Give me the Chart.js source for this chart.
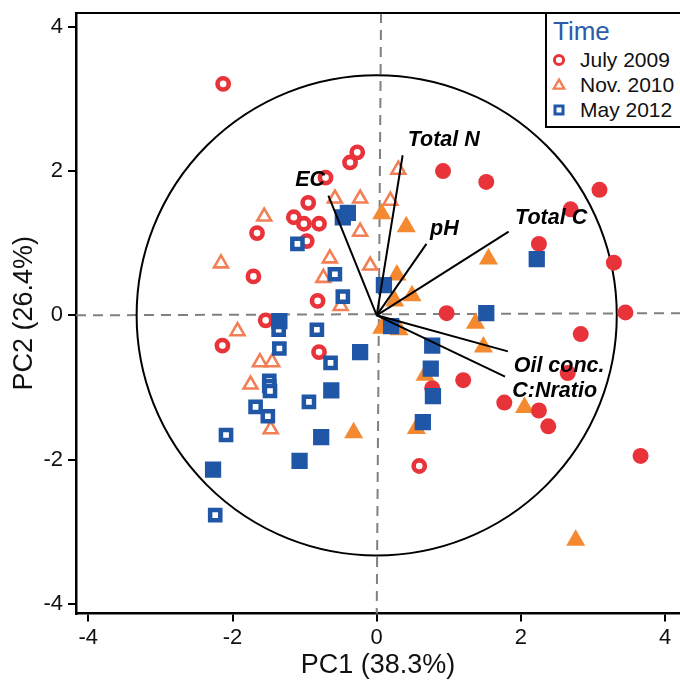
<!DOCTYPE html>
<html>
<head>
<meta charset="utf-8">
<script src="https://cdn.jsdelivr.net/npm/chart.js"></script>
<style>
html,body{margin:0;padding:0;width:680px;height:681px;overflow:hidden;background:#fff;}
#wrap{position:relative;width:680px;height:681px;overflow:hidden;}
#c{position:absolute;left:0;top:0;}
#legend{position:absolute;left:545px;top:12px;width:150px;height:116px;border:2px solid #000;box-sizing:border-box;background:#fff;font-family:'Liberation Sans',Arial,Helvetica,sans-serif;}
#legend .ttl{position:absolute;left:6px;top:3px;font-size:26px;line-height:28px;color:#2a5caa;white-space:nowrap;}
#legend .item{position:absolute;left:0;height:24px;white-space:nowrap;}
#legend .item svg{position:absolute;left:3px;top:3px;}
#legend .item span{position:absolute;left:33px;top:0;font-size:21px;line-height:24px;color:#111;}
</style>
</head>
<body>
<div id="wrap">
<canvas id="c" width="680" height="681"></canvas>
<div id="legend"></div>
</div>
<script>
// ---------------- data ----------------
const SERIES = ['July 2009', 'Nov. 2010', 'May 2012'];

const JULY2009_OPEN_X = [-2.13,-0.27,-0.37,-0.71,-0.95,-1.15,-1.01,-0.80,-1.66,-0.97,-1.71,-0.82,-1.54,-2.14,-0.80,0.59];
const JULY2009_OPEN_Y = [3.21,2.26,2.12,1.91,1.56,1.36,1.27,1.27,1.14,1.03,0.54,0.20,-0.07,-0.42,-0.51,-2.09];

const JULY2009_FILLED_X = [0.92,1.52,3.09,2.69,2.25,3.29,0.97,3.45,2.83,2.65,0.77,1.20,1.77,2.25,2.38,3.66];
const JULY2009_FILLED_Y = [2.00,1.85,1.74,1.47,0.99,0.73,0.03,0.04,-0.26,-0.80,-1.01,-0.90,-1.21,-1.32,-1.54,-1.95];

const NOV2010_OPEN_X = [0.30,-0.58,-0.23,0.19,-1.56,-0.23,-2.16,-0.65,-0.09,-0.74,-0.50,-1.93,-1.62,-1.45,-1.75,-1.47];
const NOV2010_OPEN_Y = [2.02,1.62,1.62,1.59,1.37,1.16,0.72,0.79,0.69,0.52,0.13,-0.22,-0.65,-0.65,-0.96,-1.58];

const NOV2010_FILLED_X = [0.07,0.41,1.55,0.28,0.49,0.25,0.07,0.31,1.37,1.48,0.67,2.05,0.55,-0.32,2.76];
const NOV2010_FILLED_Y = [1.41,1.23,0.78,0.56,0.27,0.20,-0.18,-0.20,-0.11,-0.44,-0.83,-1.28,-1.57,-1.63,-3.12];

const MAY2012_OPEN_X = [-1.10,-0.58,-0.47,-1.36,-0.83,-1.35,-0.64,-1.49,-1.49,-1.48,-0.94,-1.68,-1.51,-2.09,-2.24];
const MAY2012_OPEN_Y = [0.99,0.57,0.26,-0.20,-0.20,-0.46,-0.66,-0.91,-0.98,-1.05,-1.20,-1.27,-1.40,-1.66,-2.77];

const MAY2012_FILLED_X = [-0.47,-0.40,0.10,2.22,1.52,-1.35,0.20,-0.23,0.77,0.75,0.78,-0.63,0.64,-0.77,-1.07,-2.27];
const MAY2012_FILLED_Y = [1.36,1.42,0.42,0.78,0.03,-0.08,-0.15,-0.51,-0.42,-0.74,-1.12,-1.04,-1.48,-1.69,-2.02,-2.14];

// loading vectors (arrow ends) and their label anchors
const VECTOR_NAMES = ['Total N','EC','pH','Total C','Oil conc.','C:Nratio'];
const VECTOR_X = [0.36,-0.67,0.69,1.83,1.82,1.78];
const VECTOR_Y = [2.22,1.66,0.99,1.16,-0.50,-0.85];
const LABEL_X = [0.43,-1.13,0.74,1.92,1.90,1.88];
const LABEL_Y = [2.43,1.88,1.20,1.35,-0.70,-1.05];

const CIRCLE_R = 3.33;
const X_TICKS = [-4,-2,0,2,4];
const Y_TICKS = [-4,-2,0,2,4];
const X_MIN = -4.171, X_MAX = 4.207;
const Y_MIN = -4.137, Y_MAX = 4.193;
// reference guide lines (slightly tilted as in the original)
const GUIDE_H = [0, 0.03];   // y at left, y at right
const GUIDE_V = [0.06, 0];   // x at top, x at bottom

// ---------------- styles ----------------
const FONT = "'Liberation Sans', Arial, Helvetica, sans-serif";
const RED = '#e8333a';
const CORAL = '#f27f55';
const ORANGE = '#f4892f';
const BLUE = '#1f56a6';

const pts = (xs, ys) => xs.map((v, i) => ({x: v, y: ys[i]}));

const datasets = [];
VECTOR_NAMES.forEach((n, i) => {
  datasets.push({
    label: n,
    data: [{x: 0, y: 0}, {x: VECTOR_X[i], y: VECTOR_Y[i]}],
    showLine: true, pointRadius: 0, borderColor: '#000', borderWidth: 2,
    backgroundColor: '#000', order: 0
  });
});
datasets.push({label: SERIES[2], data: pts(MAY2012_FILLED_X, MAY2012_FILLED_Y), pointStyle: 'rect', pointRadius: 11.5, borderWidth: 0, backgroundColor: BLUE, borderColor: BLUE, order: 1});
datasets.push({label: SERIES[2], data: pts(MAY2012_OPEN_X, MAY2012_OPEN_Y), pointStyle: 'rect', pointRadius: 7.2, borderWidth: 4.5, backgroundColor: '#fff', borderColor: BLUE, order: 2});
datasets.push({label: SERIES[0], data: pts(JULY2009_FILLED_X, JULY2009_FILLED_Y), pointStyle: 'circle', pointRadius: 8, borderWidth: 0, backgroundColor: RED, borderColor: RED, order: 3});
datasets.push({label: SERIES[0], data: pts(JULY2009_OPEN_X, JULY2009_OPEN_Y), pointStyle: 'circle', pointRadius: 5.6, borderWidth: 4.6, backgroundColor: '#fff', borderColor: RED, order: 4});
datasets.push({label: SERIES[1], data: pts(NOV2010_FILLED_X, NOV2010_FILLED_Y), pointStyle: 'triangle', pointRadius: 11, borderWidth: 0, backgroundColor: ORANGE, borderColor: ORANGE, order: 5});
datasets.push({label: SERIES[1], data: pts(NOV2010_OPEN_X, NOV2010_OPEN_Y), pointStyle: 'triangle', pointRadius: 8, borderWidth: 2.6, backgroundColor: '#fff', borderColor: CORAL, order: 6});

const overlay = {
  id: 'overlay',
  beforeDatasetsDraw(chart) {
    const {ctx, chartArea: a, scales: {x, y}} = chart;
    ctx.save();
    ctx.strokeStyle = '#808080';
    ctx.lineWidth = 2;
    ctx.setLineDash([10, 7]);
    ctx.beginPath();
    ctx.moveTo(a.left, y.getPixelForValue(GUIDE_H[0]));
    ctx.lineTo(a.right, y.getPixelForValue(GUIDE_H[1]));
    ctx.stroke();
    ctx.beginPath();
    ctx.moveTo(x.getPixelForValue(GUIDE_V[0]), a.top);
    ctx.lineTo(x.getPixelForValue(GUIDE_V[1]), a.bottom);
    ctx.stroke();
    ctx.setLineDash([]);
    const cx = x.getPixelForValue(0), cy = y.getPixelForValue(0);
    const rx = x.getPixelForValue(CIRCLE_R) - cx;
    const ry = cy - y.getPixelForValue(CIRCLE_R);
    ctx.beginPath();
    ctx.ellipse(cx, cy, rx, ry, 0, 0, Math.PI * 2);
    ctx.strokeStyle = '#000';
    ctx.lineWidth = 2;
    ctx.stroke();
    ctx.restore();
  },
  afterDatasetsDraw(chart) {
    const {ctx, scales: {x, y}} = chart;
    ctx.save();
    ctx.fillStyle = '#000';
    ctx.font = "italic bold 21.5px " + FONT;
    ctx.textAlign = 'left';
    ctx.textBaseline = 'middle';
    VECTOR_NAMES.forEach((n, i) => {
      ctx.fillText(n, x.getPixelForValue(LABEL_X[i]), y.getPixelForValue(LABEL_Y[i]));
    });
    ctx.restore();
  },
  afterDraw(chart) {
    const {ctx, chartArea: a} = chart;
    ctx.save();
    ctx.strokeStyle = '#000';
    ctx.lineWidth = 2;
    ctx.beginPath();
    ctx.moveTo(a.left, a.top);
    ctx.lineTo(a.right, a.top);
    ctx.stroke();
    ctx.restore();
  }
};

function zeroPad(s) { s.paddingLeft = 0; s.paddingRight = 0; s.paddingTop = 0; s.paddingBottom = 0; }

const axisCommon = {
  type: 'linear',
  grid: {drawOnChartArea: false, drawTicks: true, tickLength: 8, color: '#000', lineWidth: 2},
  border: {display: true, color: '#000', width: 2.5},
};

new Chart(document.getElementById('c'), {
  type: 'scatter',
  data: {datasets},
  plugins: [overlay],
  options: {
    responsive: false,
    animation: false,
    devicePixelRatio: 1,
    events: [],
    layout: {autoPadding: false, padding: {top: 13, left: 0, right: 0, bottom: 0}},
    plugins: {legend: {display: false}, tooltip: {enabled: false}},
    scales: {
      x: Object.assign({}, axisCommon, {
        min: X_MIN, max: X_MAX,
        afterBuildTicks(s) { s.ticks = X_TICKS.map(v => ({value: v})); },
        afterFit(s) { s.height = 67.4; zeroPad(s); },
        ticks: {font: {size: 22, family: FONT}, color: '#111', padding: 3, maxRotation: 0, autoSkip: false},
        title: {display: true, text: 'PC1 (38.3%)', font: {size: 27, family: FONT, lineHeight: 1.05}, color: '#111', padding: {top: 0, bottom: 1.5}}
      }),
      y: Object.assign({}, axisCommon, {
        min: Y_MIN, max: Y_MAX,
        afterBuildTicks(s) { s.ticks = Y_TICKS.map(v => ({value: v})); },
        afterFit(s) { s.width = 76; zeroPad(s); },
        ticks: {font: {size: 22, family: FONT}, color: '#111', padding: 5, autoSkip: false},
        title: {display: true, text: 'PC2 (26.4%)', font: {size: 27, family: FONT}, color: '#111', padding: {top: 8, bottom: 0}}
      })
    }
  }
});

// ---------------- legend (HTML, real text) ----------------
const LEGEND_STYLE = [
  {shape: 'circle', color: RED, top: 34},
  {shape: 'triangle', color: CORAL, top: 59},
  {shape: 'rect', color: BLUE, top: 84}
];
function markerSVG(shape, color) {
  let inner = '';
  if (shape === 'circle') inner = `<circle cx="9" cy="9" r="4.6" fill="#fff" stroke="${color}" stroke-width="3"/>`;
  if (shape === 'triangle') inner = `<polygon points="9,3.6 14.2,12.6 3.8,12.6" fill="#fff" stroke="${color}" stroke-width="2.4"/>`;
  if (shape === 'rect') inner = `<rect x="5" y="5" width="8" height="8" fill="#fff" stroke="${color}" stroke-width="3"/>`;
  return `<svg width="18" height="18" viewBox="0 0 18 18">${inner}</svg>`;
}
const leg = document.getElementById('legend');
let html = '<div class="ttl">Time</div>';
SERIES.forEach((s, i) => {
  const st = LEGEND_STYLE[i];
  html += `<div class="item" style="top:${st.top}px">${markerSVG(st.shape, st.color)}<span>${s}</span></div>`;
});
leg.innerHTML = html;
</script>
</body>
</html>
